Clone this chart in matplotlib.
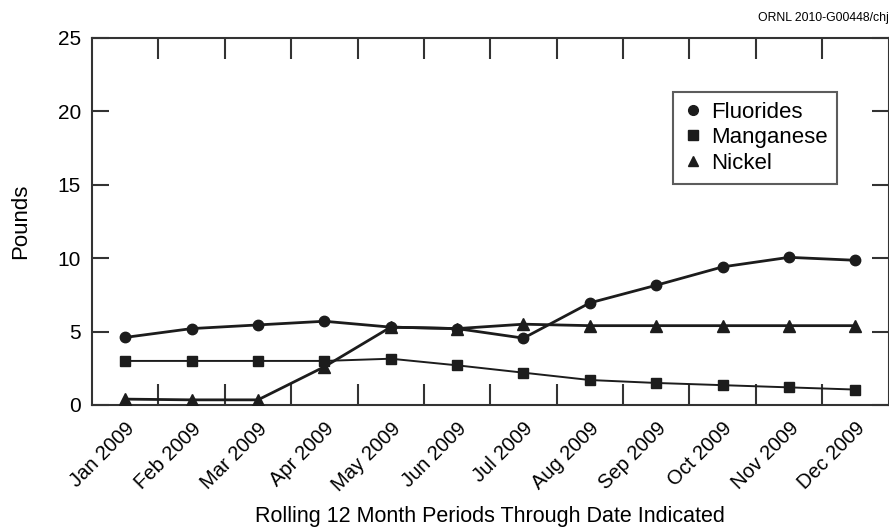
import matplotlib.pyplot as plt
from matplotlib.lines import Line2D

plt.rcParams['font.family'] = ['Liberation Sans', 'DejaVu Sans']

# data (pounds, rolling 12 month totals)
months = ['Jan 2009', 'Feb 2009', 'Mar 2009', 'Apr 2009', 'May 2009', 'Jun 2009',
          'Jul 2009', 'Aug 2009', 'Sep 2009', 'Oct 2009', 'Nov 2009', 'Dec 2009']
fluorides = [4.6, 5.2, 5.45, 5.7, 5.3, 5.2, 4.55, 6.95, 8.15, 9.4, 10.05, 9.85]
manganese = [3.0, 3.0, 3.0, 3.0, 3.15, 2.7, 2.2, 1.7, 1.5, 1.35, 1.2, 1.05]
nickel = [0.4, 0.35, 0.35, 2.6, 5.3, 5.2, 5.5, 5.4, 5.4, 5.4, 5.4, 5.4]

ink = '#1c1c1c'
x = list(range(len(months)))

fig = plt.figure(figsize=(8.89, 5.27), dpi=100)
ax = fig.add_axes([0.1035, 0.2315, 0.896, 0.697])

ax.plot(x, nickel, color=ink, lw=2.0, marker='^', ms=8, zorder=3)
ax.plot(x, manganese, color=ink, lw=1.4, marker='s', ms=7.5, zorder=4)
ax.plot(x, fluorides, color=ink, lw=2.0, marker='o', ms=7.5, zorder=5)

ax.set_xlim(-0.5, 11.5)
ax.set_ylim(0, 25)

# month labels under each point, ticks sit between periods
ax.set_xticks(x)
ax.set_xticklabels(months, rotation=45, ha='right', rotation_mode='anchor', fontsize=14.5)
ax.tick_params(axis='x', which='major', length=0, pad=10)
ax.set_xticks([i + 0.5 for i in x[:-1]], minor=True)
ax.tick_params(axis='x', which='minor', direction='in', length=15, width=1.5,
               top=True, bottom=True, color='#333333')

ax.set_yticks([0, 5, 10, 15, 20, 25])
ax.tick_params(axis='y', direction='in', length=12, width=1.5, right=True,
               labelsize=15, pad=8, color='#333333')

for s in ax.spines.values():
    s.set_linewidth(1.5)
    s.set_color('#333333')

ax.set_ylabel('Pounds', fontsize=16)
ax.yaxis.set_label_coords(-0.077, 0.5)
ax.set_xlabel('Rolling 12 Month Periods Through Date Indicated', fontsize=15.5)
ax.xaxis.set_label_coords(0.5, -0.275)

handles = [Line2D([], [], ls='none', marker='o', color=ink, ms=7),
           Line2D([], [], ls='none', marker='s', color=ink, ms=7),
           Line2D([], [], ls='none', marker='^', color=ink, ms=7)]
leg = ax.legend(handles, ['Fluorides', 'Manganese', 'Nickel'], loc='upper left',
                bbox_to_anchor=(0.729, 0.853), borderaxespad=0, fontsize=16,
                frameon=True, fancybox=False, handlelength=0.9, handletextpad=0.36,
                borderpad=0.45, labelspacing=0.2)
leg.get_frame().set_edgecolor('#333333')
leg.get_frame().set_linewidth(1.5)

fig.text(0.8526, 0.966, 'ORNL 2010-G00448/chj', ha='left', va='center', fontsize=8.8)

fig.savefig('out.png', dpi=100)
